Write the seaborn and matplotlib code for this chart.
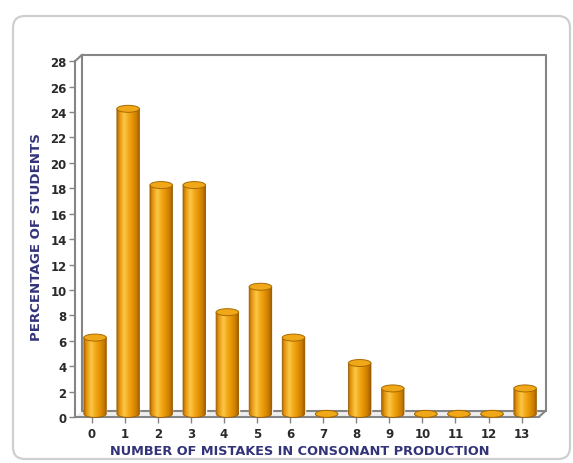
import numpy as np
import pandas as pd
import matplotlib
matplotlib.use("Agg")
import matplotlib.pyplot as plt
import seaborn as sns
from matplotlib.path import Path
from matplotlib.patches import PathPatch, Ellipse, FancyBboxPatch, Polygon
from matplotlib.colors import LinearSegmentedColormap

# Data
mistakes = ["0", "1", "2", "3", "4", "5", "6", "7", "8", "9", "10", "11", "12", "13"]
percent = [6, 24, 18, 18, 8, 10, 6, 0, 4, 2, 0, 0, 0, 2]
y_ticks = list(range(0, 30, 2))

x_title = "NUMBER OF MISTAKES IN CONSONANT PRODUCTION"
y_title = "PERCENTAGE OF STUDENTS"

sns.set_theme(style="white")
plt.rcParams["font.family"] = ["DejaVu Sans"]

W, H = 573, 464
fig = plt.figure(figsize=(W / 100, H / 100), dpi=100)
fig.patch.set_facecolor("white")

# rounded outer panel
panel = FancyBboxPatch((0.13, 0.04), 5.57, 4.43,
                       boxstyle="round,pad=0,rounding_size=0.12",
                       transform=fig.dpi_scale_trans,
                       fc="white", ec="#cfcfcf", lw=1.6, zorder=0)
fig.add_artist(panel)

XMIN, XMAX = -0.8, 14.0
YMIN, YMAX = -0.8, 29.2
ax = fig.add_axes([65.1 / W, 35.8 / H, 489.6 / W, 381.3 / H])
ax.set_facecolor("none")

df = pd.DataFrame({"mistakes": mistakes, "percent": percent})
sns.barplot(data=df, x="mistakes", y="percent", order=mistakes,
            color="#eb9c00", saturation=1, width=0.68, ax=ax, zorder=3)

# depth of the pseudo-3D box
DX, DY = 0.21, 0.5
FL, BL = -0.5, -0.5 + DX
FR, BR = 13.52, 13.52 + DX
TOP = 28

frame_c = "#858585"
lw = 1.5
# floor
ax.add_patch(Polygon([(FL, 0), (FR, 0), (BR, DY), (BL, DY)], closed=True,
                     fc="#eeeeee", ec="none", zorder=1))
ax.plot([BL, BR], [DY, DY], color=frame_c, lw=lw, zorder=2, clip_on=False)
ax.plot([FR, BR], [0, DY], color=frame_c, lw=lw, zorder=2, clip_on=False)
# back wall
ax.plot([BL, BL, BR, BR], [DY, TOP + DY, TOP + DY, DY], color=frame_c,
        lw=lw, zorder=2, clip_on=False)
ax.plot([FL, BL], [TOP, TOP + DY], color=frame_c, lw=lw, zorder=2, clip_on=False)

# cylinder shading
body_cmap = LinearSegmentedColormap.from_list(
    "cyl",
    [(0.0, "#b06800"), (0.12, "#e69610"), (0.32, "#fcc848"),
     (0.48, "#f4ab1c"), (0.72, "#e08f00"), (0.9, "#c07400"), (1.0, "#8e5200")])
grad = np.linspace(0, 1, 256).reshape(1, -1)

E = 0.55
for p in list(ax.patches):
    if not isinstance(p, matplotlib.patches.Rectangle):
        continue
    x0 = p.get_x() + DX / 2
    w = p.get_width()
    h = p.get_height()
    base = DY / 2
    top = base + h
    xc = x0 + w / 2
    p.set_x(x0)
    p.set_y(base)

    th = np.linspace(np.pi, 2 * np.pi, 40)
    arc = np.column_stack([xc + w / 2 * np.cos(th), base + E / 2 * np.sin(th)])
    verts = np.vstack([[x0, top], arc, [x0 + w, top], [x0, top]])
    codes = [Path.MOVETO] + [Path.LINETO] * (len(verts) - 2) + [Path.CLOSEPOLY]
    path = Path(verts, codes)

    clip = PathPatch(path, transform=ax.transData)
    im = ax.imshow(grad, cmap=body_cmap, extent=[x0, x0 + w, base - E / 2, top],
                   aspect="auto", zorder=4, interpolation="bicubic")
    im.set_clip_path(clip)
    ax.add_patch(PathPatch(path, fc="none", ec="#9a5c00", lw=0.6, zorder=5))
    ax.add_patch(Ellipse((xc, top), w, E, fc="#f0a818", ec="#a86a00",
                         lw=0.7, zorder=6))

ax.set_xlim(XMIN, XMAX)
ax.set_ylim(YMIN, YMAX)

for s in ["top", "right"]:
    ax.spines[s].set_visible(False)
ax.spines["left"].set_position(("data", FL))
ax.spines["left"].set_bounds(0, TOP)
ax.spines["bottom"].set_position(("data", 0))
ax.spines["bottom"].set_bounds(FL, FR)
for s in ["left", "bottom"]:
    ax.spines[s].set_color(frame_c)
    ax.spines[s].set_linewidth(lw)
    ax.spines[s].set_zorder(2)

ax.set_yticks(y_ticks)
ax.set_yticklabels([str(t) for t in y_ticks])
ax.set_xticks(range(len(mistakes)))
ax.set_xticklabels(mistakes)
ax.tick_params(axis="both", direction="out", length=4, width=1, color=frame_c,
               labelsize=8.5, labelcolor="#2a2a2a", left=True, bottom=True)
ax.tick_params(axis="y", pad=2)
ax.tick_params(axis="x", pad=3)
for t in ax.get_xticklabels() + ax.get_yticklabels():
    t.set_fontweight("bold")

title_c = "#33337a"
ax.set_xlabel(x_title, fontsize=9.3, fontweight="bold", color=title_c)
ax.set_ylabel(y_title, fontsize=9.6, fontweight="bold", color=title_c)
ax.xaxis.set_label_coords(0.48, -0.045)
ax.yaxis.set_label_coords(-0.045, 0.5)

fig.savefig("out.png", dpi=100, facecolor="white")
